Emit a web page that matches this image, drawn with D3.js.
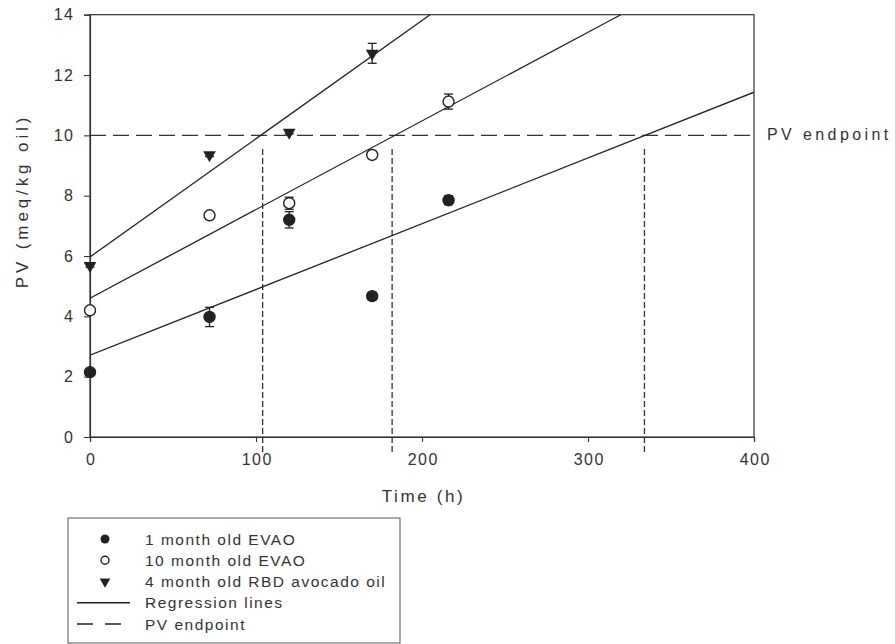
<!DOCTYPE html>
<html>
<head>
<meta charset="utf-8">
<script src="https://cdn.jsdelivr.net/npm/d3@7"></script>
<style>
  html, body { margin: 0; padding: 0; background: #fff; }
  svg { display: block; }
  text { font-family: "Liberation Sans", Arial, sans-serif; fill: #333; }
</style>
</head>
<body>
<svg id="chart" width="895" height="644"></svg>
<script>
// Sampling times (h)
const times = [0, 72, 120, 170, 216];
const rbdTimes = [0, 72, 120, 170];

// Peroxide values (meq/kg oil) and standard errors
const evao1 = [2.15, 3.98, 7.2, 4.67, 7.85];
const evao1Err = [0.05, 0.32, 0.27, 0.12, 0.15];
const evao10 = [4.2, 7.35, 7.75, 9.35, 11.12];
const evao10Err = [0.1, 0.12, 0.2, 0.12, 0.25];
const rbd = [5.68, 9.35, 10.1, 12.72];
const rbdErr = [0.05, 0.05, 0.05, 0.33];

// Linear regression fits: PV = intercept + slope * t
const regIntercepts = [2.71, 4.6, 5.97];
const regSlopes = [0.0218, 0.0294, 0.0392];

// PV endpoint and the times at which each oil reaches it
const pvEndpoint = 10;
const endpointTimes = [104, 182, 334];

const xTicks = [0, 100, 200, 300, 400];
const yTicks = [0, 2, 4, 6, 8, 10, 12, 14];

const legendLabels = [
  "1 month old EVAO",
  "10 month old EVAO",
  "4 month old RBD avocado oil",
  "Regression lines",
  "PV endpoint"
];

const svg = d3.select("#chart");
const ink = "#222";

const x = d3.scaleLinear().domain([0, 400]).range([90, 754]);
const y = d3.scaleLinear().domain([0, 14]).range([437, 14.7]);

// Frame
svg.append("rect")
  .attr("x", x(0)).attr("y", y(14))
  .attr("width", x(400) - x(0)).attr("height", y(0) - y(14))
  .attr("fill", "none").attr("stroke", "#333").attr("stroke-width", 1.2);

// Axes
const tickFont = 16, tickSpacing = 1.5;
const yAxis = svg.append("g").attr("transform", `translate(${x(0)},0)`)
  .call(d3.axisLeft(y).tickValues(yTicks).tickSize(6).tickPadding(11 - tickSpacing).tickFormat(d3.format("d")));
const xAxis = svg.append("g").attr("transform", `translate(0,${y(0)})`)
  .call(d3.axisBottom(x).tickValues(xTicks).tickSize(5).tickPadding(12).tickFormat(d3.format("d")));
[xAxis, yAxis].forEach(g => {
  g.select(".domain").attr("stroke", "#333").attr("stroke-width", 1.2);
  g.selectAll(".tick line").attr("stroke", "#333").attr("stroke-width", 1.1);
  g.selectAll(".tick text")
    .style("font-family", '"Liberation Sans", Arial, sans-serif')
    .style("font-size", tickFont + "px")
    .style("letter-spacing", tickSpacing + "px")
    .attr("fill", "#333");
});
xAxis.selectAll(".tick text").attr("dx", tickSpacing / 2);

// Axis titles
svg.append("text")
  .attr("x", 422 + 1.5).attr("y", 502)
  .attr("text-anchor", "middle")
  .style("font-size", "17px").style("letter-spacing", "2.6px")
  .text("Time (h)");

svg.append("text")
  .attr("transform", "translate(28,201) rotate(-90)")
  .attr("text-anchor", "middle")
  .style("font-size", "17px").style("letter-spacing", "3.9px")
  .text("PV (meq/kg oil)");

// Clip region for lines inside the plot
svg.append("clipPath").attr("id", "plotClip")
  .append("rect")
  .attr("x", x(0)).attr("y", y(14))
  .attr("width", x(400) - x(0)).attr("height", y(0) - y(14));

// PV endpoint horizontal line
svg.append("line")
  .attr("x1", x(0)).attr("x2", x(400))
  .attr("y1", y(pvEndpoint)).attr("y2", y(pvEndpoint))
  .attr("stroke", "#333").attr("stroke-width", 1.3)
  .attr("stroke-dasharray", "16,7");

svg.append("text")
  .attr("x", 767).attr("y", 140)
  .style("font-size", "16px").style("letter-spacing", "3.4px")
  .text("PV endpoint");

// Vertical drop lines at the endpoint times
svg.selectAll("line.drop").data(endpointTimes).join("line")
  .attr("class", "drop")
  .attr("x1", d => x(d)).attr("x2", d => x(d))
  .attr("y1", y(9.55)).attr("y2", y(-0.6))
  .attr("stroke", "#333").attr("stroke-width", 1.3)
  .attr("stroke-dasharray", "6,3");

// Regression lines
const regData = regIntercepts.map((b, i) => {
  const m = regSlopes[i];
  const tEnd = Math.min(400, (14 - b) / m);
  return [[0, b], [tEnd, b + m * tEnd]];
});
svg.append("g").attr("clip-path", "url(#plotClip)")
  .selectAll("path").data(regData).join("path")
  .attr("d", d3.line().x(d => x(d[0])).y(d => y(d[1])))
  .attr("fill", "none").attr("stroke", ink).attr("stroke-width", 1.3);

// Series with error bars
const series = [
  { t: times, v: evao1, e: evao1Err, kind: "filled" },
  { t: times, v: evao10, e: evao10Err, kind: "open" },
  { t: rbdTimes, v: rbd, e: rbdErr, kind: "tri" }
];

const capHalf = 4.5;
series.forEach(s => {
  const pts = s.t.map((t, i) => ({ t, v: s.v[i], e: s.e[i] }));
  const g = svg.append("g");
  const eb = g.selectAll("g.err").data(pts).join("g").attr("class", "err")
    .attr("stroke", ink).attr("stroke-width", 1.3);
  eb.append("line")
    .attr("x1", d => x(d.t)).attr("x2", d => x(d.t))
    .attr("y1", d => y(d.v - d.e)).attr("y2", d => y(d.v + d.e));
  eb.append("line")
    .attr("x1", d => x(d.t) - capHalf).attr("x2", d => x(d.t) + capHalf)
    .attr("y1", d => y(d.v + d.e)).attr("y2", d => y(d.v + d.e));
  eb.append("line")
    .attr("x1", d => x(d.t) - capHalf).attr("x2", d => x(d.t) + capHalf)
    .attr("y1", d => y(d.v - d.e)).attr("y2", d => y(d.v - d.e));

  if (s.kind === "tri") {
    g.selectAll("path.m").data(pts).join("path").attr("class", "m")
      .attr("d", d3.symbol(d3.symbolTriangle, 70))
      .attr("transform", d => `translate(${x(d.t)},${y(d.v)}) rotate(180)`)
      .attr("fill", ink);
  } else {
    g.selectAll("circle.m").data(pts).join("circle").attr("class", "m")
      .attr("cx", d => x(d.t)).attr("cy", d => y(d.v)).attr("r", 5.5)
      .attr("fill", s.kind === "filled" ? ink : "#fff")
      .attr("stroke", ink).attr("stroke-width", 1.4);
  }
});

// Legend
const legend = svg.append("g");
legend.append("rect")
  .attr("x", 68).attr("y", 518).attr("width", 332).attr("height", 125)
  .attr("fill", "none").attr("stroke", "#555").attr("stroke-width", 1);

const rowY = d3.scalePoint().domain(d3.range(legendLabels.length)).range([539, 624]);
legendLabels.forEach((label, i) => {
  const cy = rowY(i);
  if (i === 0) {
    legend.append("circle").attr("cx", 105).attr("cy", cy).attr("r", 4.5).attr("fill", ink);
  } else if (i === 1) {
    legend.append("circle").attr("cx", 105).attr("cy", cy).attr("r", 4)
      .attr("fill", "#fff").attr("stroke", ink).attr("stroke-width", 1.4);
  } else if (i === 2) {
    legend.append("path").attr("d", d3.symbol(d3.symbolTriangle, 50))
      .attr("transform", `translate(105,${cy}) rotate(180)`).attr("fill", ink);
  } else if (i === 3) {
    legend.append("line").attr("x1", 77).attr("x2", 130).attr("y1", cy).attr("y2", cy)
      .attr("stroke", ink).attr("stroke-width", 1.3);
  } else {
    legend.append("line").attr("x1", 77).attr("x2", 124).attr("y1", cy).attr("y2", cy)
      .attr("stroke", ink).attr("stroke-width", 1.3).attr("stroke-dasharray", "16,12");
  }
  legend.append("text")
    .attr("x", 145).attr("y", cy).attr("dy", "0.36em")
    .style("font-size", "15.5px").style("letter-spacing", "1.5px")
    .text(label);
});
</script>
</body>
</html>
